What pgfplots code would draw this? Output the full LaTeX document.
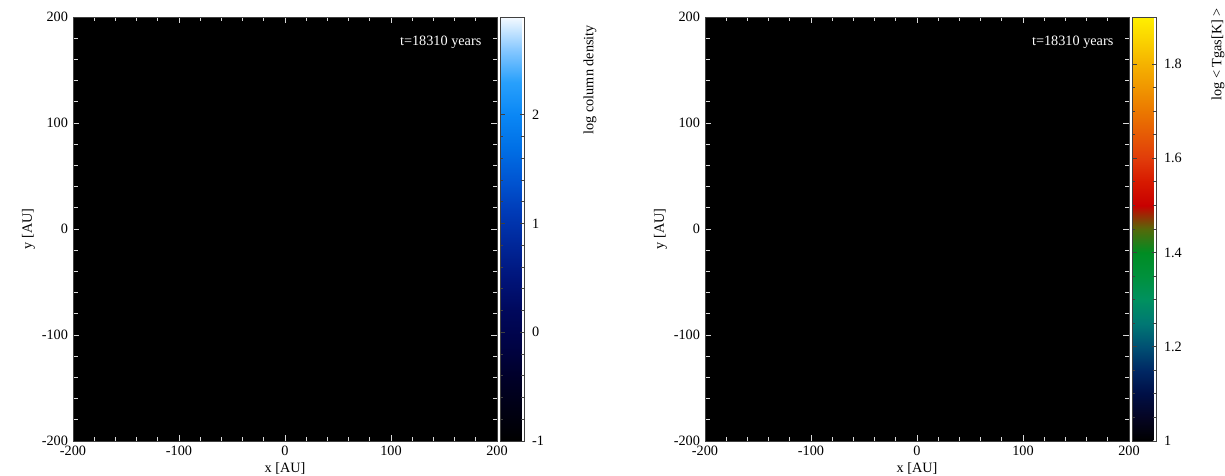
\documentclass[border=0pt]{standalone}
\usepackage{fontspec}
\setmainfont{Liberation Serif}
\usepackage{pgfplots}
\pgfplotsset{compat=1.18}
\pgfplotsset{
  colormap={coldens}{
    rgb255=(0,0,0) rgb255=(0,0,20) rgb255=(0,0,42) rgb255=(0,3,70)
    rgb255=(0,8,92) rgb255=(0,20,122) rgb255=(0,38,152) rgb255=(0,58,182)
    rgb255=(0,85,210) rgb255=(0,112,230) rgb255=(10,135,245) rgb255=(40,160,252)
    rgb255=(135,200,255) rgb255=(245,250,255)},
  colormap={tgas}{
    rgb255=(0,0,0) rgb255=(5,5,35) rgb255=(0,15,70) rgb255=(0,40,100)
    rgb255=(0,80,115) rgb255=(0,120,115) rgb255=(0,145,95) rgb255=(0,145,60)
    rgb255=(0,140,35) rgb255=(85,105,10) rgb255=(200,0,0) rgb255=(215,25,0)
    rgb255=(225,60,10) rgb255=(230,90,5) rgb255=(235,120,0) rgb255=(240,150,0)
    rgb255=(245,178,0) rgb255=(250,210,0) rgb255=(255,240,0)},
  mapbase/.style={
    scale only axis, width=282.67pt, height=282.67pt,
    xmin=-200, xmax=200, ymin=-200, ymax=200,
    xtick={-200,-100,0,100,200}, ytick={-200,-100,0,100,200},
    minor tick num=4,
    tick align=inside,
    axis on top,
    tick style={white!85!black, line width=0.6pt},
    major tick length=4pt, minor tick length=3pt,
    axis line style={black!75, line width=0.6pt},
    axis background/.style={fill=black},
    xlabel={x [AU]}, ylabel={y [AU]},
    xlabel style={yshift=2pt},
    ylabel style={yshift=-2pt},
    ticklabel style={font=\fontsize{9.5}{11}\selectfont},
    label style={font=\fontsize{9.5}{11}\selectfont},
    /pgf/number format/assume math mode=true,
    colorbar,
    colorbar shift/.style={xshift=2pt},
  },
  cbbase/.style={
    at={(parent axis.north east)}, anchor=north west,
    width=16pt, height=282.67pt, scale only axis,
    ytick pos=both, yticklabel pos=right,
    tick align=inside,
    tick style={black!75, line width=0.6pt},
    major tick length=3pt, minor tick length=2pt,
    axis line style={black!75, line width=0.6pt},
    yticklabel style={font=\fontsize{9.5}{11}\selectfont, xshift=2pt},
    /pgf/number format/assume math mode=true,
  },
}
\begin{document}
\fontsize{9.5}{11}\selectfont
\begin{tikzpicture}
\useasboundingbox (0,0) rectangle (816.67pt,316.67pt);
\begin{axis}[mapbase, at={(48.67pt,22.67pt)}, anchor=south west,
  colormap name=coldens, point meta min=-1, point meta max=2.9,
  colorbar style={cbbase, ytick={-1,0,1,2}, minor y tick num=4}]
\addplot[fill=black, draw=none] coordinates {(-200,-200) (200,-200) (200,200) (-200,200)} -- cycle;
\node[white, anchor=east, font=\fontsize{9.5}{11}\selectfont] at (axis cs:190,176) {t=18310 years};
\end{axis}
\begin{axis}[mapbase, at={(470pt,22.67pt)}, anchor=south west,
  colormap name=tgas, point meta min=1, point meta max=1.9,
  colorbar style={cbbase, ytick={1,1.2,1.4,1.6,1.8}, minor y tick num=3}]
\addplot[fill=black, draw=none] coordinates {(-200,-200) (200,-200) (200,200) (-200,200)} -- cycle;
\node[white, anchor=east, font=\fontsize{9.5}{11}\selectfont] at (axis cs:190,176) {t=18310 years};
\end{axis}
\node[rotate=90, anchor=east, font=\fontsize{9.5}{11}\selectfont] at (393.3pt,303.3pt) {log column density};
\node[rotate=90, anchor=east, font=\fontsize{9.5}{11}\selectfont] at (812pt,314.5pt) {log < Tgas[K] >};
\end{tikzpicture}
\end{document}
